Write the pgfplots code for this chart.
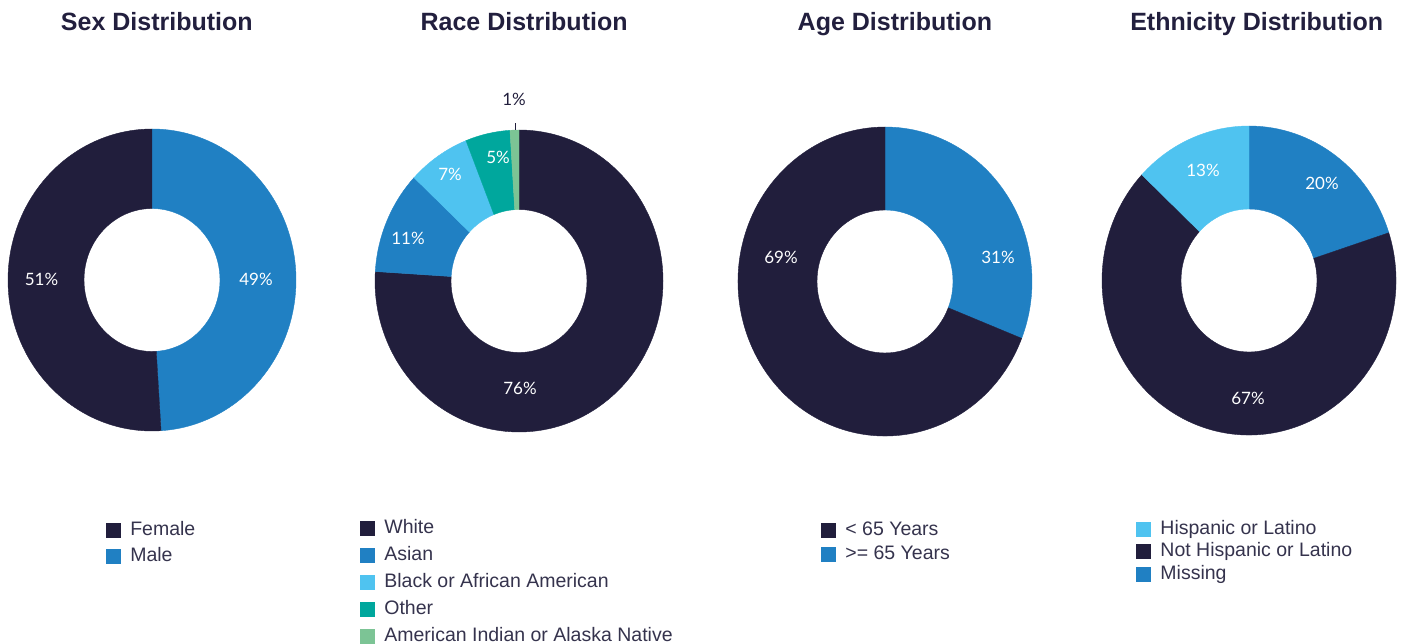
\documentclass[border=0pt]{standalone}
\usepackage{fontspec}
\setmainfont{Liberation Sans}
\newfontfamily\pctfont{Lato}
\usepackage{pgfplots}
\usepackage{pgfplotstable}
\pgfplotsset{compat=1.18}

\definecolor{cNavy}{HTML}{211E3C}
\definecolor{cBlue}{HTML}{2080C3}
\definecolor{cLight}{HTML}{4FC3F0}
\definecolor{cTeal}{HTML}{00A79D}
\definecolor{cGreen}{HTML}{7CC495}
\definecolor{cTitle}{HTML}{221F3E}
\definecolor{cLegend}{HTML}{35334D}

% slices clockwise from 12 o'clock; lx/ly = label offset from centre (px, y up)
\pgfplotstableread{
pct col lx ly out
49 cBlue 104 1 0
51 cNavy -110.5 1 0
}\sexdata
\pgfplotstableread{
pct col lx ly out
76 cNavy 1 -107 0
11 cBlue -111 43 0
7 cLight -69 107 0
5 cTeal -21 124 0
1 cGreen -5 182 1
}\racedata
\pgfplotstableread{
pct col lx ly out
31 cBlue 113 24.5 0
69 cNavy -104 24.5 0
}\agedata
\pgfplotstableread{
pct col lx ly out
20 cBlue 73 97.5 0
67 cNavy -1 -117.5 0
13 cLight -46 110.5 0
}\ethdata

% #1 table, #2/#3 outer radii, #4/#5 inner radii (px)
\newcommand{\donut}[5]{%
  \pgfplotsextra{%
    \pgfplotstablegetrowsof{#1}%
    \pgfmathtruncatemacro\nrows{\pgfplotsretval-1}%
    \gdef\cumA{90}%
    \foreach \i in {0,...,\nrows}{%
      \pgfplotstablegetelem{\i}{pct}\of{#1}\let\pct\pgfplotsretval
      \pgfplotstablegetelem{\i}{col}\of{#1}\let\col\pgfplotsretval
      \pgfplotstablegetelem{\i}{lx}\of{#1}\let\lx\pgfplotsretval
      \pgfplotstablegetelem{\i}{ly}\of{#1}\let\ly\pgfplotsretval
      \pgfplotstablegetelem{\i}{out}\of{#1}\let\out\pgfplotsretval
      \pgfmathsetmacro\aS{\cumA}%
      \pgfmathsetmacro\aE{\cumA-3.6*\pct}%
      \pgfmathsetmacro\xo{#2*cos(\aS)}%
      \pgfmathsetmacro\yo{#3*sin(\aS)}%
      \pgfmathsetmacro\xi{#4*cos(\aE)}%
      \pgfmathsetmacro\yi{#5*sin(\aE)}%
      \fill[\col, draw=\col, line width=0.2pt] (axis cs:\xo,\yo)
        arc[start angle=\aS, end angle=\aE, x radius=#2*0.5pt, y radius=#3*0.5pt]
        -- (axis cs:\xi,\yi)
        arc[start angle=\aE, end angle=\aS, x radius=#4*0.5pt, y radius=#5*0.5pt]
        -- cycle;
      \ifnum\out=1
        \pgfmathsetmacro\lxl{\lx+1.7}%
        \pgfmathsetmacro\lyl{\ly-24}%
        \draw[cNavy, line width=0.5pt] (axis cs:\lxl,#3) -- (axis cs:\lxl,\lyl);
        \node[font=\pctfont\fontsize{8.5}{10}\selectfont, text=cNavy]
          at (axis cs:\lx,\ly) {\pct\%};
      \else
        \node[font=\pctfont\fontsize{8.5}{10}\selectfont, text=white]
          at (axis cs:\lx,\ly) {\pct\%};
      \fi
      \xdef\cumA{\aE}%
    }%
  }%
}

\pgfplotsset{
  donut/.style={
    hide axis, clip=false, scale only axis,
    x=0.5pt, y=0.5pt,
    xmin=-160, xmax=160, ymin=-160, ymax=160,
    anchor=center,
    title style={font=\fontsize{12.5}{15}\selectfont\bfseries, text=cTitle, anchor=base},
    legend cell align=left,
    legend image code/.code={\fill[##1, draw=none] (0pt,-3.75pt) rectangle (7.5pt,3.75pt);},
    legend style={draw=none, fill=none, inner sep=0pt, anchor=north west,
      font=\fontsize{9.75}{11}\selectfont, text=cLegend,
      nodes={inner sep=0pt, text height=7.5pt, text depth=2.5pt},
      /tikz/every odd column/.append style={column sep=4.5pt}},
  },
}

\begin{document}
\begin{tikzpicture}
\useasboundingbox (0,0) rectangle (701.5pt,321.5pt);

\begin{axis}[donut, at={(76pt,181.5pt)},
  title={Sex Distribution}, title style={at={(axis description cs:0.515,1.242)}},
  legend style={at={(axis description cs:0.356,-0.251)}, row sep=3pt}]
\donut{\sexdata}{144}{151}{68}{71.5}
\addlegendimage{fill=cNavy}\addlegendentry{Female}
\addlegendimage{fill=cBlue}\addlegendentry{Male}
\end{axis}

\begin{axis}[donut, at={(259.5pt,181pt)},
  title={Race Distribution}, title style={at={(axis description cs:0.516,1.246)}},
  legend style={at={(axis description cs:0.003,-0.240)}, row sep=3.5pt}]
\donut{\racedata}{144}{151}{68}{71.5}
\addlegendimage{fill=cNavy}\addlegendentry{White}
\addlegendimage{fill=cBlue}\addlegendentry{Asian}
\addlegendimage{fill=cLight}\addlegendentry{Black or African American}
\addlegendimage{fill=cTeal}\addlegendentry{Other}
\addlegendimage{fill=cGreen}\addlegendentry{American Indian or Alaska Native}
\end{axis}

\begin{axis}[donut, at={(442.5pt,180.75pt)},
  title={Age Distribution}, title style={at={(axis description cs:0.531,1.247)}},
  legend style={at={(axis description cs:0.3,-0.247)}, row sep=2pt}]
\donut{\agedata}{147}{154.5}{68}{71.5}
\addlegendimage{fill=cNavy}\addlegendentry{< 65 Years}
\addlegendimage{fill=cBlue}\addlegendentry{>= 65 Years}
\end{axis}

\begin{axis}[donut, at={(624.5pt,181.25pt)},
  title={Ethnicity Distribution}, title style={at={(axis description cs:0.524,1.244)}},
  legend style={at={(axis description cs:0.147,-0.245)}, row sep=1.25pt}]
\donut{\ethdata}{147}{154.5}{68}{71.5}
\addlegendimage{fill=cLight}\addlegendentry{Hispanic or Latino}
\addlegendimage{fill=cNavy}\addlegendentry{Not Hispanic or Latino}
\addlegendimage{fill=cBlue}\addlegendentry{Missing}
\end{axis}
\end{tikzpicture}
\end{document}
